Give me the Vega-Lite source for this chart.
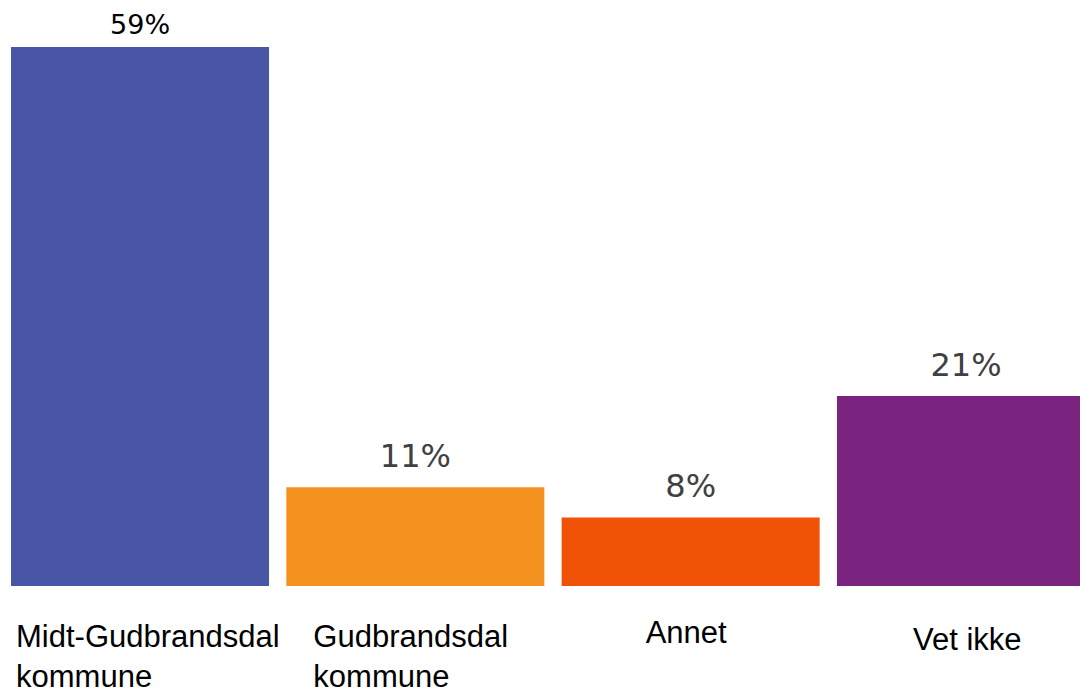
{
  "$schema": "https://vega.github.io/schema/vega-lite/v6.json",
  "autosize": {"type": "none"},
  "padding": {"left": 0, "top": 47, "right": 0, "bottom": 103},
  "width": 1106,
  "height": 539,
  "background": "white",
  "config": {"view": {"stroke": null}},
  "data": {
    "values": [
      {"svar": "Midt-Gudbrandsdal kommune", "andel": 0.59},
      {"svar": "Gudbrandsdal kommune", "andel": 0.108},
      {"svar": "Annet", "andel": 0.075},
      {"svar": "Vet ikke", "andel": 0.208}
    ]
  },
  "encoding": {
    "x": {
      "field": "svar",
      "type": "nominal",
      "sort": null,
      "scale": {"paddingInner": 0.0628, "paddingOuter": 0.04},
      "axis": {
        "title": null,
        "domain": false,
        "ticks": false,
        "tickSize": 0,
        "grid": false,
        "labelAngle": 0,
        "labelFont": "Liberation Sans",
        "labelFontSize": 31,
        "labelColor": "#000000",
        "labelLimit": 500,
        "labelLineHeight": 40,
        "labelBaseline": "top",
        "labelAlign": "left",
        "labelExpr": "datum.label == 'Midt-Gudbrandsdal kommune' ? ['Midt-Gudbrandsdal', 'kommune'] : datum.label == 'Gudbrandsdal kommune' ? ['Gudbrandsdal', '\u2004kommune'] : datum.label",
        "labelOffset": {
          "condition": [
            {"test": "datum.value == 'Midt-Gudbrandsdal kommune'", "value": -124},
            {"test": "datum.value == 'Gudbrandsdal kommune'", "value": -102},
            {"test": "datum.value == 'Annet'", "value": -45}
          ],
          "value": -53
        },
        "labelPadding": {
          "condition": [
            {"test": "datum.value == 'Midt-Gudbrandsdal kommune'", "value": 36},
            {"test": "datum.value == 'Gudbrandsdal kommune'", "value": 36},
            {"test": "datum.value == 'Annet'", "value": 32}
          ],
          "value": 39
        }
      }
    },
    "y": {
      "field": "andel",
      "type": "quantitative",
      "scale": {"domain": [0, 0.59], "nice": false, "zero": true},
      "axis": null
    }
  },
  "layer": [
    {
      "mark": {"type": "bar"},
      "encoding": {
        "color": {
          "field": "svar",
          "type": "nominal",
          "sort": null,
          "scale": {
            "domain": ["Midt-Gudbrandsdal kommune", "Gudbrandsdal kommune", "Annet", "Vet ikke"],
            "range": ["#4856A5", "#F5921F", "#F05308", "#7A2480"]
          },
          "legend": null
        }
      }
    },
    {
      "transform": [{"filter": "datum.svar == 'Midt-Gudbrandsdal kommune'"}],
      "mark": {"type": "text", "font": "DejaVu Sans", "fontSize": 27, "color": "#000000", "baseline": "alphabetic", "dy": -13},
      "encoding": {"text": {"field": "andel", "type": "quantitative", "format": ".0%"}}
    },
    {
      "transform": [{"filter": "datum.svar != 'Midt-Gudbrandsdal kommune'"}],
      "mark": {"type": "text", "font": "DejaVu Sans", "fontSize": 32, "color": "#404040", "baseline": "alphabetic", "dy": -20},
      "encoding": {"text": {"field": "andel", "type": "quantitative", "format": ".0%"}}
    }
  ]
}
